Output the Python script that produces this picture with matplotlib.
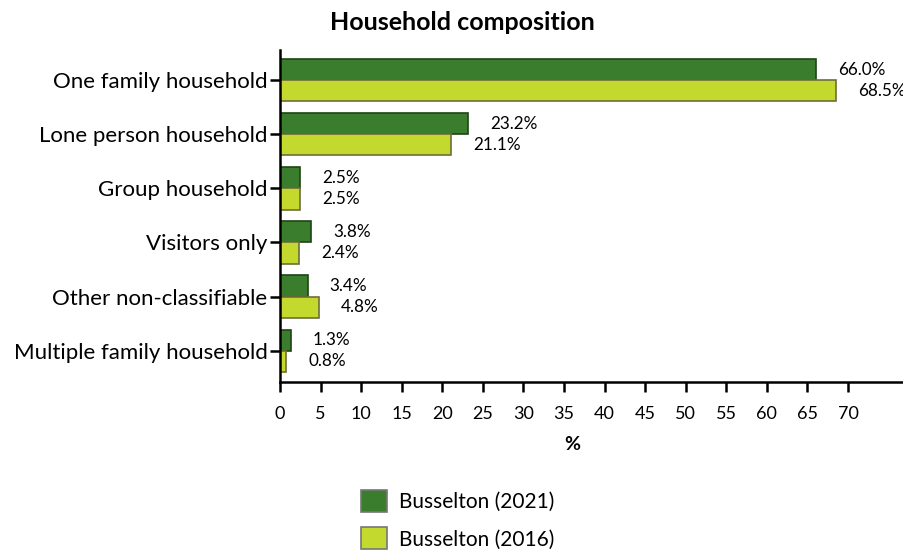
import numpy as np
import matplotlib.pyplot as plt
from matplotlib.patches import Patch

plt.rcParams['font.family'] = ['Lato', 'DejaVu Sans']

# 数据
categories = ['One family household', 'Lone person household', 'Group household',
              'Visitors only', 'Other non-classifiable', 'Multiple family household']
values_2021 = [66.0, 23.2, 2.5, 3.8, 3.4, 1.3]
values_2016 = [68.5, 21.1, 2.5, 2.4, 4.8, 0.8]
series_names = ['Busselton (2021)', 'Busselton (2016)']

dark_face, dark_edge = '#3a7e2d', '#1f4417'
light_face, light_edge = '#c4d92e', '#6e6e3a'

fig = plt.figure(figsize=(9.04, 5.51), dpi=100)
ax = fig.add_axes([280 / 904, 1 - 382 / 551, 1 - 280 / 904, (382 - 50) / 551])

y = np.arange(len(categories))
h = 0.39
ax.barh(y - h / 2, values_2021, height=h, color=dark_face, edgecolor=dark_edge, linewidth=1.2)
ax.barh(y + h / 2, values_2016, height=h, color=light_face, edgecolor=light_edge, linewidth=1.2)

# 数值标签
for yi, v in zip(y, values_2021):
    ax.annotate(f'{v:.1f}%', xy=(v, yi - h / 2), xytext=(16, 0), textcoords='offset points',
                ha='left', va='center', fontsize=12.3)
for yi, v in zip(y, values_2016):
    ax.annotate(f'{v:.1f}%', xy=(v, yi + h / 2), xytext=(16, 0), textcoords='offset points',
                ha='left', va='center', fontsize=12.3)

ax.set_xlim(0, 76.9)
ax.set_ylim(5.58, -0.56)
ax.set_xticks(np.arange(0, 71, 5))
ax.set_yticks(y)
ax.set_yticklabels(categories, fontsize=16)
ax.tick_params(axis='x', labelsize=13, length=7, width=1.8, pad=10)
ax.tick_params(axis='y', length=7, width=1.8, pad=2)
for s in ['top', 'right']:
    ax.spines[s].set_visible(False)
for s in ['left', 'bottom']:
    ax.spines[s].set_linewidth(1.8)

fig.text(572 / 904, 1 - 445 / 551, '%', ha='center', va='center', fontsize=14, fontweight='bold')
fig.text(462 / 904, 1 - 22 / 551, 'Household composition', ha='center', va='center',
         fontsize=18, fontweight='bold')

handles = [Patch(facecolor=dark_face, edgecolor='#777777', linewidth=1.2),
           Patch(facecolor=light_face, edgecolor='#777777', linewidth=1.2)]
fig.legend(handles, series_names, loc='upper left', bbox_to_anchor=(342 / 904, 1 - 471 / 551),
           frameon=False, fontsize=15, handlelength=1.25, handleheight=1.25,
           handletextpad=0.58, labelspacing=0.75)

plt.savefig('out.png', dpi=100)
plt.close()
